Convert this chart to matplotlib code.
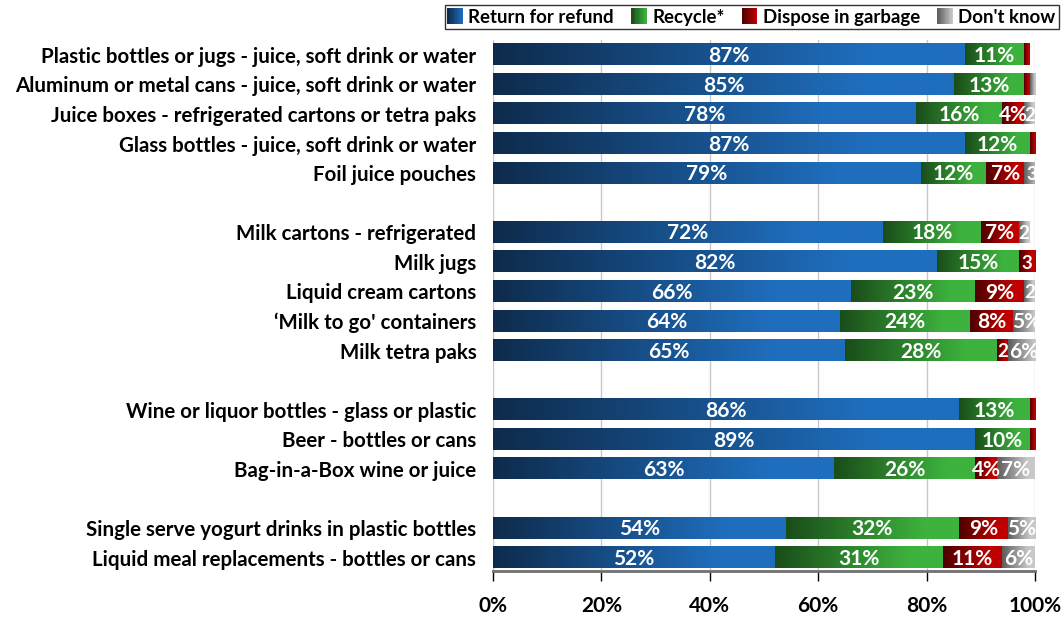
import numpy as np
import matplotlib
matplotlib.use('Agg')
import matplotlib.pyplot as plt
from matplotlib.colors import LinearSegmentedColormap, to_rgb
from matplotlib.legend_handler import HandlerBase
from matplotlib.patches import Rectangle, Patch

plt.rcParams['font.family'] = ['Lato', 'DejaVu Sans']
plt.rcParams['font.weight'] = 'bold'

categories = [
    'Plastic bottles or jugs - juice, soft drink or water',
    'Aluminum or metal cans - juice, soft drink or water',
    'Juice boxes - refrigerated cartons or tetra paks',
    'Glass bottles - juice, soft drink or water',
    'Foil juice pouches',
    None,
    'Milk cartons - refrigerated',
    'Milk jugs',
    'Liquid cream cartons',
    "\u2018Milk to go' containers",
    'Milk tetra paks',
    None,
    'Wine or liquor bottles - glass or plastic',
    'Beer - bottles or cans',
    'Bag-in-a-Box wine or juice',
    None,
    'Single serve yogurt drinks in plastic bottles',
    'Liquid meal replacements - bottles or cans',
]

series_names = ['Return for refund', 'Recycle*', 'Dispose in garbage', "Don't know"]
refund = [87, 85, 78, 87, 79, 0, 72, 82, 66, 64, 65, 0, 86, 89, 63, 0, 54, 52]
recycle = [11, 13, 16, 12, 12, 0, 18, 15, 23, 24, 28, 0, 13, 10, 26, 0, 32, 31]
garbage = [1, 1, 4, 1, 7, 0, 7, 3, 9, 8, 2, 0, 1, 1, 4, 0, 9, 11]
dont_know = [0, 1, 2, 0, 3, 0, 2, 0, 2, 5, 6, 0, 0, 0, 7, 0, 5, 6]

# dark -> bright for each series
grads = [('#0e2b4c', '#1f6ebe'),
         ('#1a4d1a', '#3db23d'),
         ('#4e0000', '#c00000'),
         ('#5c5c5c', '#c8c8c8')]


def ramp_cmap(dark, bright):
    return LinearSegmentedColormap.from_list('g', [dark, bright])


def label_for(v):
    if v >= 4:
        return f'{v}%'
    if v >= 2:
        return f'{v}'
    return ''


class GradientHandler(HandlerBase):
    def __init__(self, dark, bright):
        super().__init__()
        self.dark = np.array(to_rgb(dark))
        self.bright = np.array(to_rgb(bright))

    def create_artists(self, legend, orig_handle, xdescent, ydescent,
                       width, height, fontsize, trans):
        n = 12
        size = height * 1.1
        x0 = -xdescent + (width - size) / 2
        y0 = -ydescent + (height - size) / 2
        arts = []
        for i in range(n):
            c = self.dark + (self.bright - self.dark) * i / (n - 1)
            arts.append(Rectangle((x0 + i * size / n, y0), size / n * 1.05, size,
                                  fc=c, ec='none', transform=trans))
        return arts


fig = plt.figure(figsize=(10.63, 6.19), dpi=100)
ax = fig.add_axes([493 / 1063, 1 - 571 / 619, 542 / 1063, 531 / 619])

bar_h = 0.71
ramp = np.clip(np.linspace(0, 1, 256) / 0.8, 0, 1).reshape(1, -1)
all_series = [refund, recycle, garbage, dont_know]

for i, cat in enumerate(categories):
    if cat is None:
        continue
    left = 0
    for s, vals in enumerate(all_series):
        v = vals[i]
        if v <= 0:
            continue
        ax.imshow(ramp, cmap=ramp_cmap(*grads[s]), aspect='auto',
                  extent=(left, left + v, i + bar_h / 2, i - bar_h / 2),
                  interpolation='bilinear', zorder=2)
        txt = label_for(v)
        if txt:
            fs = 15 if v >= 4 else 13.5
            ax.text(left + v / 2, i + 0.04, txt, ha='center', va='center',
                    color='white', fontsize=fs, fontweight='bold', zorder=3)
        left += v

ax.set_xlim(0, 100)
ax.set_ylim(17.45, -0.5)
ax.set_yticks([i for i, c in enumerate(categories) if c is not None])
ax.set_yticklabels([c for c in categories if c is not None], fontsize=14.8, fontweight='bold')
ax.tick_params(axis='y', length=0, pad=12)
ax.set_xticks(np.arange(0, 101, 20))
ax.set_xticklabels([f'{t}%' for t in range(0, 101, 20)], fontsize=15, fontweight='bold')
ax.tick_params(axis='x', length=7, width=1, color='black', pad=11, direction='out')
ax.grid(axis='x', color='#c8c8c8', linewidth=1, zorder=0)
ax.set_axisbelow(True)
for side in ['top', 'right', 'left']:
    ax.spines[side].set_visible(False)
ax.spines['bottom'].set_color('#707070')
ax.spines['bottom'].set_linewidth(2)

handles = [Patch(label=n) for n in series_names]
handler_map = {h: GradientHandler(*grads[k]) for k, h in enumerate(handles)}
leg = fig.legend(handles=handles, handler_map=handler_map, ncol=4,
                 loc='upper right', bbox_to_anchor=(1059 / 1063, 1 - 5 / 619),
                 frameon=True, fancybox=False, edgecolor='black', fontsize=13.4,
                 handlelength=0.7, handleheight=0.8, handletextpad=0.35,
                 columnspacing=1.0, borderpad=0.2, borderaxespad=0)
leg.get_frame().set_linewidth(1)
for t in leg.get_texts():
    t.set_fontweight('bold')

fig.savefig('out.png', dpi=100)
